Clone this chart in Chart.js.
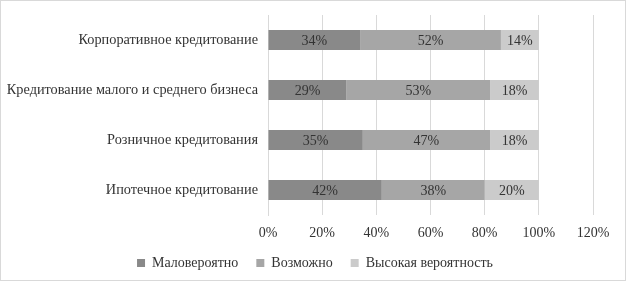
<!DOCTYPE html>
<html>
<head>
<meta charset="utf-8">
<script src="https://cdn.jsdelivr.net/npm/chart.js@4/dist/chart.umd.min.js"></script>
<style>
  html, body { margin: 0; padding: 0; background: #fff; }
  #wrap { position: relative; width: 624px; height: 279px; border: 1px solid #d9d9d9; }
</style>
</head>
<body>
<div id="wrap"><canvas id="riskChart" width="624" height="279"></canvas></div>
<script>
const categories = [
  'Корпоративное кредитование',
  'Кредитование малого и среднего бизнеса',
  'Розничное кредитования',
  'Ипотечное кредитование'
];
const unlikelyValues = [34, 29, 35, 42];
const possibleValues = [52, 53, 47, 38];
const highValues = [14, 18, 18, 20];
const seriesNames = ['Маловероятно', 'Возможно', 'Высокая вероятность'];
const xTicks = [0, 20, 40, 60, 80, 100, 120];

const serif = 'Liberation Serif, Times New Roman, serif';
const textColor = '#333333';

// draws the % numbers in the middle of each segment
const barLabels = {
  id: 'barLabels',
  afterDatasetsDraw(chart) {
    const ctx = chart.ctx;
    ctx.save();
    ctx.font = '14px ' + serif;
    ctx.fillStyle = textColor;
    ctx.textAlign = 'center';
    ctx.textBaseline = 'middle';
    chart.data.datasets.forEach((ds, i) => {
      const meta = chart.getDatasetMeta(i);
      meta.data.forEach((bar, j) => {
        const midX = (bar.x + bar.base) / 2;
        ctx.fillText(ds.data[j] + '%', midX, bar.y + 1);
      });
    });
    ctx.restore();
  }
};

// legend sits a bit right of centre in the original
const legendShift = {
  id: 'legendShift',
  afterLayout(chart) {
    chart.legend.left += 18;
    chart.legend.right += 18;
  }
};

const ctxRisk = document.getElementById('riskChart').getContext('2d');

new Chart(ctxRisk, {
  type: 'bar',
  data: {
    labels: categories,
    datasets: [{
      label: seriesNames[0],
      data: unlikelyValues,
      backgroundColor: '#898989'
    },
    {
      label: seriesNames[1],
      data: possibleValues,
      backgroundColor: '#a6a6a6'
    },
    {
      label: seriesNames[2],
      data: highValues,
      backgroundColor: '#cbcbcb'
    }]
  },
  options: {
    indexAxis: 'y',
    responsive: false,
    animation: false,
    devicePixelRatio: 1,
    categoryPercentage: 1,
    barPercentage: 0.4,
    layout: {
      padding: { top: 14, right: 32, left: 0, bottom: 0 }
    },
    plugins: {
      legend: {
        position: 'bottom',
        labels: {
          boxWidth: 8,
          boxHeight: 8,
          padding: 18,
          color: textColor,
          font: { family: serif, size: 14 }
        }
      },
      tooltip: { enabled: false }
    },
    scales: {
      x: {
        stacked: true,
        min: 0,
        max: 120,
        afterBuildTicks(scale) {
          scale.ticks = xTicks.map(v => ({ value: v }));
        },
        afterFit(scale) { scale.height = 23; },
        ticks: {
          callback: v => v + '%',
          color: textColor,
          padding: 9.5,
          font: { family: serif, size: 14 }
        },
        grid: { color: '#d9d9d9', drawTicks: false },
        border: { display: false }
      },
      y: {
        stacked: true,
        afterFit(scale) {
          scale.width = 267;
          scale.paddingTop = 0;
          scale.paddingBottom = 0;
        },
        ticks: {
          color: textColor,
          padding: 10,
          font: { family: serif, size: 14.3 }
        },
        grid: { display: false, drawTicks: false },
        border: { display: true, color: '#d9d9d9' }
      }
    }
  },
  plugins: [barLabels, legendShift]
});
</script>
</body>
</html>
